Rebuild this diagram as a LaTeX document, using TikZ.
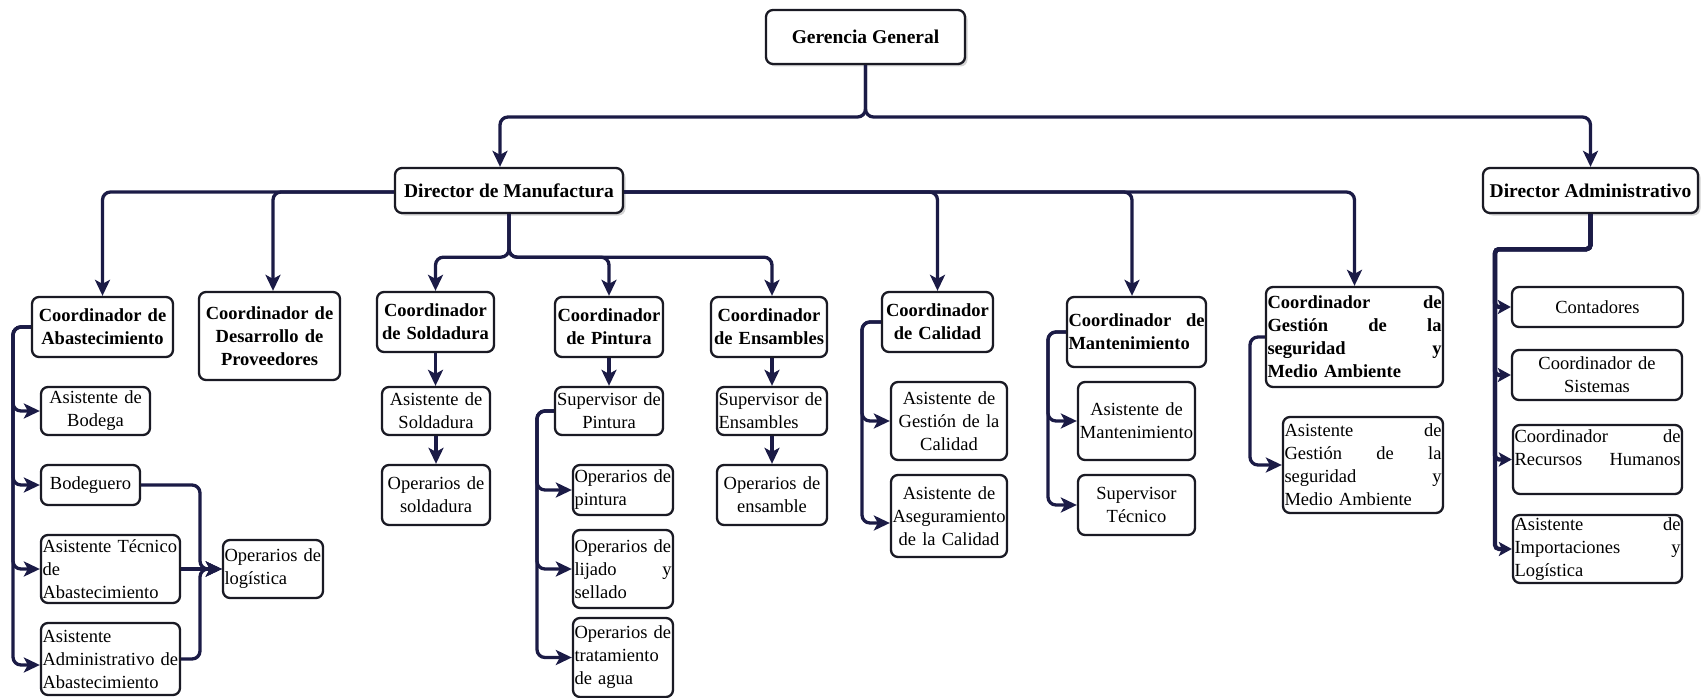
\documentclass[tikz,border=0pt]{standalone}
\usepackage{fontspec}
\setmainfont{Liberation Serif}
\usetikzlibrary{arrows.meta,shadows,calc}

\definecolor{linec}{HTML}{1B1B46}
\definecolor{boxc}{HTML}{1A1A24}

\newcommand{\bodyfont}{\fontsize{18.5}{23}\selectfont}
\newcommand{\topfont}{\fontsize{19.5}{24}\selectfont\bfseries}
% stretchable gap that spreads a line over the full text width
\newcommand{\gap}{\hskip 0pt plus 1filll\relax}
% a line that never breaks
\newcommand{\oneline}[1]{\mbox{#1}}

\tikzset{
  box/.style={draw=boxc, line width=2.3pt, rounded corners=7pt, fill=white,
              inner xsep=1.5pt, inner ysep=0pt, font=\bodyfont, align=center},
  coord/.style={box, font=\bodyfont\bfseries},
  topbox/.style={box, font=\topfont,
                 drop shadow={shadow xshift=2.5pt, shadow yshift=-2.5pt, opacity=0.35}},
  conn/.style={draw=linec, line width=3.3pt, rounded corners=8pt,
               -{Stealth[length=16pt,width=15pt,inset=4pt]}},
  shortconn/.style={draw=linec, line width=4.2pt, rounded corners=4pt,
               -{Stealth[length=13pt,width=14pt,inset=3pt]}},
}

\begin{document}
\begin{tikzpicture}[x=1pt, y=-1pt]
\useasboundingbox (0,0) rectangle (1701,698);

% top level
\node[topbox, minimum width=199pt, minimum height=54pt] (gg) at (865.5,37) {Gerencia General};
\node[topbox, minimum width=228pt, minimum height=45pt] (dm) at (509,190.5) {Director de Manufactura};
\node[topbox, minimum width=215pt, minimum height=45pt] (da) at (1590.5,190.5) {Director Administrativo};

% coordinators
\node[coord, text width=138pt, minimum height=60pt] (cab) at (102.5,327) {\oneline{Coordinador de}\\\oneline{Abastecimiento}};
\node[coord, text width=138pt, minimum height=88pt] (cdp) at (269.5,336) {\oneline{Coordinador de}\\\oneline{Desarrollo de}\\\oneline{Proveedores}};
\node[coord, text width=114pt, minimum height=60pt] (cso) at (435.5,322) {\oneline{Coordinador}\\\oneline{de Soldadura}};
\node[coord, text width=105pt, minimum height=60pt] (cpi) at (609,327) {\oneline{Coordinador}\\\oneline{de Pintura}};
\node[coord, text width=113pt, minimum height=60pt] (cen) at (769,327) {\oneline{Coordinador}\\\oneline{de Ensambles}};
\node[coord, text width=108pt, minimum height=60pt] (cca) at (937.5,322) {\oneline{Coordinador}\\\oneline{de Calidad}};
\node[coord, align=left, text width=136pt, minimum height=70pt] (cma) at (1136.5,332) {Coordinador \gap de\\\oneline{Mantenimiento}};
\node[coord, align=left, text width=174pt, minimum height=100pt] (cgs) at (1354.5,337)
  {Coordinador \gap de\\Gestión \gap de \gap la\\seguridad \gap y\\\oneline{Medio Ambiente}};

% abastecimiento
\node[box, text width=106pt, minimum height=48pt] (abo) at (95.5,411) {\oneline{Asistente de}\\\oneline{Bodega}};
\node[box, text width=96pt, minimum height=40pt] (bod) at (90.5,485) {Bodeguero};
\node[box, align=left, text width=136pt, minimum height=68pt] (ate) at (110.5,569) {\oneline{Asistente Técnico}\\\oneline{de}\\\oneline{Abastecimiento}};
\node[box, align=left, text width=136pt, minimum height=72pt] (aad) at (110.5,659) {\oneline{Asistente}\\\oneline{Administrativo de}\\\oneline{Abastecimiento}};
\node[box, align=left, text width=97pt, minimum height=58pt] (olo) at (273,569) {\oneline{Operarios de}\\\oneline{logística}};

% soldadura, pintura, ensambles
\node[box, text width=105pt, minimum height=48pt] (aso) at (436,411) {\oneline{Asistente de}\\\oneline{Soldadura}};
\node[box, text width=105pt, minimum height=60pt] (oso) at (436,495) {\oneline{Operarios de}\\\oneline{soldadura}};
\node[box, text width=105pt, minimum height=48pt] (spi) at (609,411) {\oneline{Supervisor de}\\\oneline{Pintura}};
\node[box, align=left, text width=97pt, minimum height=50pt] (opi) at (623,490) {\oneline{Operarios de}\\\oneline{pintura}};
\node[box, align=left, text width=97pt, minimum height=78pt] (oli) at (623,569) {\oneline{Operarios de}\\lijado \gap y\\\oneline{sellado}};
\node[box, align=left, text width=97pt, minimum height=79pt] (otr) at (623,657.5) {\oneline{Operarios de}\\\oneline{tratamiento}\\\oneline{de agua}};
\node[box, align=left, text width=107pt, minimum height=48pt] (sen) at (772,411) {\oneline{Supervisor de}\\\oneline{Ensambles}};
\node[box, text width=107pt, minimum height=60pt] (oen) at (772,495) {\oneline{Operarios de}\\\oneline{ensamble}};

% calidad, mantenimiento, seguridad
\node[box, text width=113pt, minimum height=78pt] (agc) at (949,421) {\oneline{Asistente de}\\\oneline{Gestión de la}\\\oneline{Calidad}};
\node[box, text width=113pt, minimum height=82pt] (aac) at (949,516) {\oneline{Asistente de}\\\oneline{Aseguramiento}\\\oneline{de la Calidad}};
\node[box, text width=114pt, minimum height=78pt] (ama) at (1136.5,421) {\oneline{Asistente de}\\\oneline{Mantenimiento}};
\node[box, text width=114pt, minimum height=60pt] (ste) at (1136.5,505) {\oneline{Supervisor}\\\oneline{Técnico}};
\node[box, align=left, text width=157pt, minimum height=96pt] (ags) at (1363,465)
  {Asistente \gap de\\Gestión \gap de \gap la\\seguridad \gap y\\\oneline{Medio Ambiente}};

% administracion
\node[box, text width=168pt, minimum height=40pt] (con) at (1597.5,307) {Contadores};
\node[box, text width=167pt, minimum height=50pt] (csi) at (1597,375) {\oneline{Coordinador de}\\\oneline{Sistemas}};
\node[box, align=left, text width=166pt, minimum height=69pt] (crh) at (1597.5,459.5) {Coordinador \gap de\\Recursos \gap Humanos\\\mbox{}};
\node[box, align=left, text width=166pt, minimum height=68pt] (aim) at (1597.5,549) {Asistente \gap de\\Importaciones \gap y\\\oneline{Logística}};

% ---- connectors ----
\coordinate (gj) at (865.5,117);
\draw[conn] (gg.south) -- (gj) -| ([xshift=-9pt]dm.north);
\draw[conn] (gg.south) -- (gj) -| (da.north);

\draw[conn] ([yshift=-1.5pt]dm.west) -| (cab.north);
\draw[conn] ([yshift=-1.5pt]dm.west) -| ([xshift=3.5pt]cdp.north);
\draw[conn] ([yshift=-1.5pt]dm.east) -| (cca.north);
\draw[conn] ([yshift=-1.5pt]dm.east) -| ([xshift=-4.5pt]cma.north);
\draw[conn] ([yshift=-1.5pt]dm.east) -| (cgs.north);

\coordinate (mj) at ($(dm.south)+(0,43)$);
\draw[conn] (dm.south) -- (mj) -| (cso.north);
\draw[conn] (dm.south) -- (mj) -| (cpi.north);
\draw[conn] (dm.south) -- (mj) -| ([xshift=3pt]cen.north);

\draw[conn] (cso.south) -- (cso.south |- aso.north);
\draw[conn] (aso.south) -- (oso.north);
\draw[conn] (cpi.south) -- (spi.north);
\draw[conn] ([xshift=3pt]cen.south) -- (sen.north);
\draw[conn] (sen.south) -- (oen.north);

% abastecimiento branch
\coordinate (ta) at (13,0);
\coordinate (aadin) at ([yshift=-6pt]aad.west);
\foreach \nm in {abo,bod,ate,aadin}
  \draw[conn] (cab.west) -| (ta |- \nm.west) -- (\nm.west);

\coordinate (tl) at (200,0);
\draw[conn] (bod.east) -| (tl |- olo.west) -- (olo.west);
\draw[conn] (ate.east) -- (olo.west);
\draw[conn] (aad.east) -| (tl |- olo.west) -- (olo.west);

% pintura branch
\coordinate (tp) at (537,0);
\foreach \nm in {opi,oli,otr}
  \draw[conn] (spi.west) -| (tp |- \nm.west) -- (\nm.west);

% calidad branch
\coordinate (tc) at (862,0);
\coordinate (aacin) at ([yshift=-7pt]aac.west);
\foreach \nm in {agc,aacin}
  \draw[conn] (cca.west) -| (tc |- \nm.west) -- (\nm.west);

% mantenimiento branch
\coordinate (tm) at (1048,0);
\foreach \nm in {ama,ste}
  \draw[conn] (cma.west) -| (tm |- \nm.west) -- (\nm.west);

% seguridad branch
\coordinate (tg) at (1250,0);
\draw[conn] (cgs.west) -| (tg |- ags.west) -- (ags.west);

% administracion branch
\coordinate (aj) at ($(da.south)+(0,35)$);
\coordinate (td) at (1495,0);
\foreach \nm in {con,csi,crh,aim}
  \draw[shortconn] (da.south) -- (aj) -| (td |- \nm.west) -- (\nm.west);

\end{tikzpicture}
\end{document}
